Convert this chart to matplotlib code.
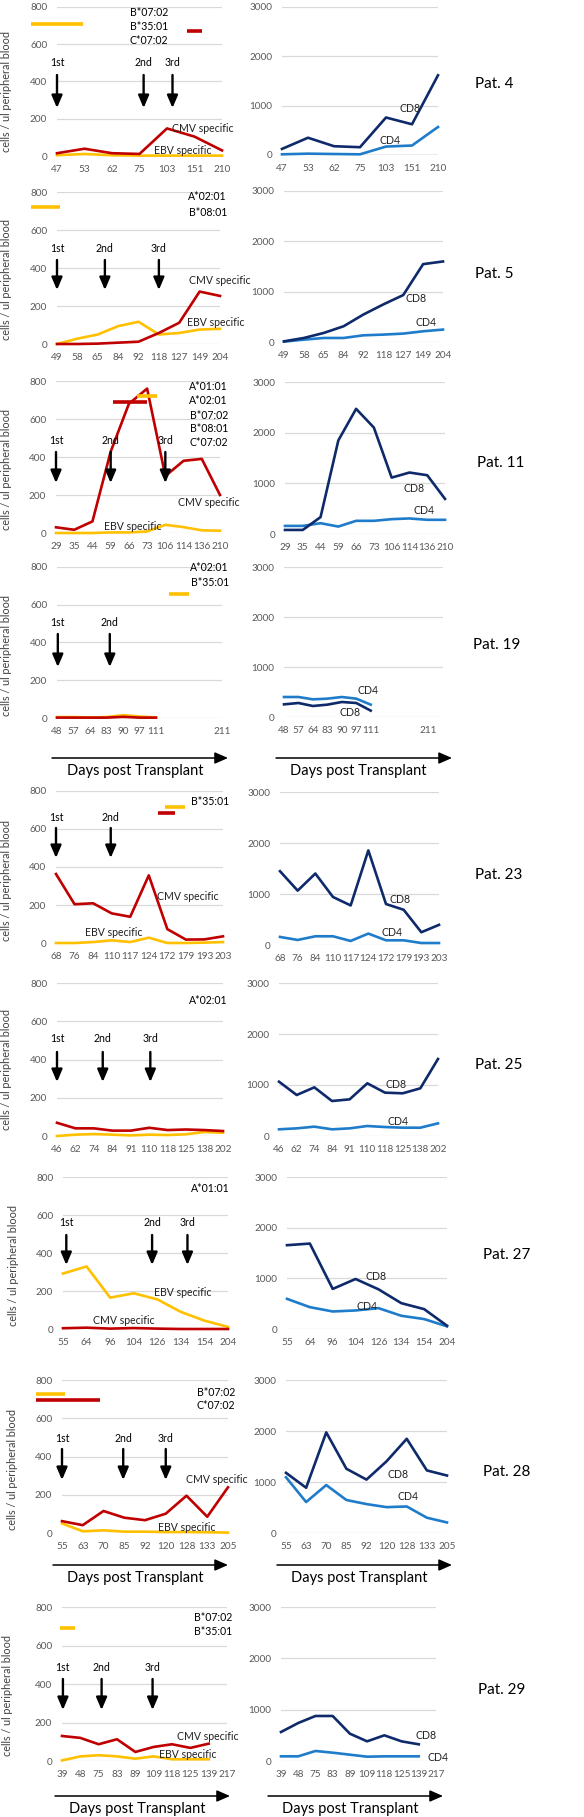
import matplotlib
matplotlib.use('Agg')
import matplotlib.pyplot as plt
import matplotlib.transforms as mtrans
import numpy as np

W, H = 584, 1817
plt.rcParams['font.family'] = ['Lato', 'DejaVu Sans']
TICKFONT = ['Lato', 'DejaVu Sans']

RED = '#C00000'
YEL = '#FFC000'
NAVY = '#0E2A6B'
BLUE = '#1F7CCB'
TICK = '#595959'
GRID = '#D9D9D9'
NAN = np.nan

# ---------------- data ----------------
p4_days = ['47', '53', '62', '75', '103', '151', '210']
p4_cmv = [15, 39, 15, 11, 148, 104, 30]
p4_ebv = [4, 11, 4, 2, 2, 2, 2]
p4_cd8 = [123, 350, 178, 158, 760, 623, 1616]
p4_cd4 = [14, 27, 20, 14, 171, 192, 568]
p4_hla = ['B*07:02', 'B*35:01', 'C*07:02']

p5_days = ['49', '58', '65', '84', '92', '118', '127', '149', '204']
p5_cmv = [0, 0, 2, 7, 12, 58, 112, 276, 253]
p5_ebv = [0, 28, 50, 94, 117, 50, 58, 76, 80]
p5_cd8 = [13, 80, 180, 313, 547, 747, 933, 1547, 1600]
p5_cd4 = [7, 47, 80, 80, 133, 147, 167, 213, 247]
p5_hla = ['A*02:01', 'B*08:01']

p11_days = ['29', '35', '44', '59', '66', '73', '106', '114', '136', '210']
p11_cmv = [30, 17, 61, 428, 680, 760, 300, 380, 390, 200]
p11_ebv = [0, 0, 0, 3, 3, 8, 43, 31, 14, 12]
p11_cd8 = [80, 80, 333, 1847, 2470, 2100, 1113, 1213, 1160, 693]
p11_cd4 = [160, 160, 213, 147, 260, 260, 293, 307, 280, 280]
p11_hla = ['A*01:01', 'A*02:01', 'B*07:02', 'B*08:01', 'C*07:02']

p19_days = ['48', '57', '64', '83', '90', '97', '111', '', '', '', '211']
p19_cmv = [2, 2, 2, 2, 6, 2, 2, NAN, NAN, NAN, NAN]
p19_ebv = [5, 5, 3, 5, 15, 8, 3, NAN, NAN, NAN, NAN]
p19_cd8 = [253, 280, 220, 247, 300, 280, 127, NAN, NAN, NAN, NAN]
p19_cd4 = [400, 400, 353, 367, 400, 367, 247, NAN, NAN, NAN, NAN]
p19_hla = ['A*02:01', 'B*35:01']

p23_days = ['68', '76', '84', '110', '117', '124', '172', '179', '193', '203']
p23_cmv = [363, 204, 209, 156, 138, 356, 73, 18, 19, 35]
p23_ebv = [0, 0, 5, 14, 5, 28, 0, 0, 2, 5]
p23_cd8 = [1447, 1066, 1401, 941, 776, 1855, 803, 691, 250, 395]
p23_cd4 = [158, 99, 171, 171, 79, 224, 92, 92, 39, 39]
p23_hla = ['B*35:01']

p25_days = ['46', '62', '74', '84', '91', '110', '118', '125', '138', '202']
p25_cmv = [69, 40, 40, 28, 28, 43, 31, 34, 31, 26]
p25_ebv = [0, 7, 10, 7, 3, 7, 5, 9, 21, 17]
p25_cd8 = [1065, 804, 954, 686, 719, 1033, 850, 837, 935, 1510]
p25_cd4 = [131, 150, 183, 131, 150, 196, 176, 163, 163, 248]
p25_hla = ['A*02:01']

p27_days = ['55', '64', '96', '104', '126', '134', '154', '204']
p27_cmv = [4, 7, 2, 5, 2, 0, 0, 0]
p27_ebv = [292, 329, 165, 188, 156, 90, 44, 11]
p27_cd8 = [1654, 1686, 791, 987, 784, 510, 392, 65]
p27_cd4 = [595, 431, 346, 366, 412, 261, 196, 52]
p27_hla = ['A*01:01']

p28_days = ['55', '63', '70', '85', '92', '120', '128', '133', '205']
p28_cmv = [62, 41, 115, 80, 67, 101, 195, 85, 239]
p28_ebv = [50, 9, 14, 7, 7, 5, 5, 4, 2]
p28_cd8 = [1180, 887, 1973, 1260, 1047, 1407, 1847, 1227, 1127]
p28_cd4 = [1093, 607, 940, 647, 567, 507, 520, 300, 207]
p28_hla = ['B*07:02', 'C*07:02']

p29_days = ['39', '48', '75', '83', '89', '109', '118', '125', '139', '217']
p29_cmv = [130, 120, 87, 113, 47, 73, 87, 68, 90, NAN]
p29_ebv = [3, 24, 30, 24, 12, 24, 9, 9, 9, NAN]
p29_cd8 = [565, 740, 877, 877, 532, 383, 500, 383, 325, NAN]
p29_cd4 = [91, 91, 195, 162, 123, 84, 91, 91, 91, NAN]
p29_hla = ['B*07:02', 'B*35:01']

# ---------------- layout (pixels) ----------------
rows = [
    dict(name='Pat. 4', days=p4_days, cmv=p4_cmv, ebv=p4_ebv, cd8=p4_cd8, cd4=p4_cd4, hla=p4_hla,
         L=(57, 222, 156, 7), R=(282, 438, 155, 7), Rx=None, ylab=(7, 92),
         hla_pos=(168, 12, 14), bars=[(YEL, -0.95, 0.95, 709), (RED, 4.73, 5.27, 671)],
         arrows=[(0, '1st'), (3.15, '2nd'), (4.2, '3rd')], arr_y=(63, 75, 108),
         cmv_lab=(172, 128), ebv_lab=(154, 151), cd8_lab=(400, 108), cd4_lab=(380, 140),
         pat=(475, 84), zero_black=True, daysax=None),
    dict(name='Pat. 5', days=p5_days, cmv=p5_cmv, ebv=p5_ebv, cd8=p5_cd8, cd4=p5_cd4, hla=p5_hla,
         L=(57, 220, 344, 192), R=(284, 443, 342, 191), Rx=None, ylab=(7, 280),
         hla_pos=(227, 197, 15), bars=[(YEL, -1.27, 0.15, 721)],
         arrows=[(0, '1st'), (2.35, '2nd'), (5.0, '3rd')], arr_y=(248, 260, 290),
         cmv_lab=(189, 281), ebv_lab=(187, 322), cd8_lab=(405, 299), cd4_lab=(415, 322),
         pat=(475, 274), zero_black=False, daysax=None),
    dict(name='Pat. 11', days=p11_days, cmv=p11_cmv, ebv=p11_ebv, cd8=p11_cd8, cd4=p11_cd4, hla=p11_hla,
         L=(56, 220, 533, 381), R=(285, 445, 534, 382), Rx=None, ylab=(7, 470),
         hla_pos=(228, 387, 14), bars=[(RED, 3.11, 4.97, 689), (YEL, 4.43, 5.52, 721)],
         arrows=[(0, '1st'), (3, '2nd'), (6, '3rd')], arr_y=(441, 452, 483),
         cmv_lab=(178, 502), ebv_lab=(104, 526), cd8_lab=(403, 488), cd4_lab=(413, 510),
         pat=(477, 463), zero_black=False, daysax=None),
    dict(name='Pat. 19', days=p19_days, cmv=p19_cmv, ebv=p19_ebv, cd8=p19_cd8, cd4=p19_cd4, hla=p19_hla,
         L=(57, 222, 718, 567), R=(284, 443, 717, 567), Rx=11, ylab=(7, 655),
         hla_pos=(229, 567, 15), bars=[(YEL, 6.8, 8.0, 656)],
         arrows=[(0.05, '1st'), (3.2, '2nd')], arr_y=(622, 634, 667),
         cmv_lab=None, ebv_lab=None, cd8_lab=(339, 712), cd4_lab=(358, 690),
         pat=(473, 645), zero_black=False, daysax=((52, 228, 758, 135, 771), (276, 452, 758, 358, 771))),
    dict(name='Pat. 23', days=p23_days, cmv=p23_cmv, ebv=p23_ebv, cd8=p23_cd8, cd4=p23_cd4, hla=p23_hla,
         L=(56, 223, 943, 791), R=(280, 439, 945, 792), Rx=None, ylab=(7, 880),
         hla_pos=(229, 801, 14), bars=[(YEL, 5.87, 6.96, 716), (RED, 5.49, 6.41, 684)],
         arrows=[(0, '1st'), (2.95, '2nd')], arr_y=(817, 828, 858),
         cmv_lab=(157, 897), ebv_lab=(85, 932), cd8_lab=(390, 899), cd4_lab=(382, 932),
         pat=(475, 875), zero_black=False, daysax=None),
    dict(name='Pat. 25', days=p25_days, cmv=p25_cmv, ebv=p25_ebv, cd8=p25_cd8, cd4=p25_cd4, hla=p25_hla,
         L=(57, 223, 1136, 983), R=(279, 438, 1136, 983), Rx=None, ylab=(7, 1070),
         hla_pos=(228, 1000, 14), bars=[],
         arrows=[(0, '1st'), (2.48, '2nd'), (5.06, '3rd')], arr_y=(1039, 1052, 1082),
         cmv_lab=None, ebv_lab=None, cd8_lab=(385, 1085), cd4_lab=(388, 1121),
         pat=(475, 1065), zero_black=False, daysax=None),
    dict(name='Pat. 27', days=p27_days, cmv=p27_cmv, ebv=p27_ebv, cd8=p27_cd8, cd4=p27_cd4, hla=p27_hla,
         L=(63, 228, 1329, 1177), R=(287, 447, 1329, 1177), Rx=None, ylab=(14, 1265),
         hla_pos=(230, 1188, 14), bars=[],
         arrows=[(0.14, '1st'), (3.78, '2nd'), (5.28, '3rd')], arr_y=(1223, 1235, 1265),
         cmv_lab=(93, 1320), ebv_lab=(154, 1293), cd8_lab=(365, 1277), cd4_lab=(357, 1306),
         pat=(483, 1255), zero_black=False, daysax=None),
    dict(name='Pat. 28', days=p28_days, cmv=p28_cmv, ebv=p28_ebv, cd8=p28_cd8, cd4=p28_cd4, hla=p28_hla,
         L=(62, 228, 1533, 1380), R=(286, 447, 1533, 1380), Rx=None, ylab=(13, 1470),
         hla_pos=(235, 1392, 13), bars=[(YEL, -1.26, 0.14, 727), (RED, -1.26, 1.84, 695)],
         arrows=[(0, '1st'), (2.95, '2nd'), (5, '3rd')], arr_y=(1438, 1449, 1480),
         cmv_lab=(186, 1479), ebv_lab=(158, 1527), cd8_lab=(387, 1474), cd4_lab=(397, 1497),
         pat=(483, 1472), zero_black=False, daysax=((53, 228, 1565, 135, 1578), (277, 452, 1565, 359, 1578))),
    dict(name='Pat. 29', days=p29_days, cmv=p29_cmv, ebv=p29_ebv, cd8=p29_cd8, cd4=p29_cd4, hla=p29_hla,
         L=(62, 227, 1761, 1607), R=(281, 436, 1761, 1607), Rx=None, ylab=(8, 1695),
         hla_pos=(232, 1617, 14), bars=[(YEL, -0.11, 0.71, 691)],
         arrows=[(0.05, '1st'), (2.16, '2nd'), (4.94, '3rd')], arr_y=(1667, 1679, 1710),
         cmv_lab=(177, 1736), ebv_lab=(159, 1754), cd8_lab=(415, 1735), cd4_lab=(427, 1757),
         pat=(478, 1690), zero_black=False, daysax=((55, 230, 1796, 137, 1809), (268, 443, 1796, 350, 1809))),
]


def fx(x):
    return x / W


def fy(y):
    return 1 - y / H


fig = plt.figure(figsize=(W / 100, H / 100), dpi=100)

FS = 7.6
TFS = 7.2


def make_axes(ext, ymax, yticks, n, xmax=None):
    x0, x1, y0, yt = ext
    ax = fig.add_axes([fx(x0), fy(y0), (x1 - x0) / W, (y0 - yt) / H])
    ax.set_xlim(0, xmax if xmax is not None else n - 1)
    ax.set_ylim(0, ymax)
    ax.set_yticks(yticks)
    ax.set_yticklabels([str(t) for t in yticks], family=TICKFONT)
    ax.set_xticks(range(n))
    for s in ax.spines.values():
        s.set_visible(False)
    ax.yaxis.grid(True, color=GRID, lw=0.9)
    ax.set_axisbelow(True)
    ax.tick_params(axis='both', length=0, labelsize=TFS, colors=TICK)
    ax.tick_params(axis='x', pad=6.5)
    ax.tick_params(axis='y', pad=7)
    ax.patch.set_alpha(0)
    return ax


for r in rows:
    n = len(r['days'])
    idx = np.arange(n)
    # left panel
    axL = make_axes(r['L'], 800, [0, 200, 400, 600, 800], n)
    axL.set_xticklabels(r['days'], family=TICKFONT)
    axL.plot(idx, np.array(r['ebv'], float), color=YEL, lw=1.9, clip_on=False)
    axL.plot(idx, np.array(r['cmv'], float), color=RED, lw=1.9, clip_on=False)
    for col, a, b, v in r['bars']:
        axL.plot([a, b], [v, v], color=col, lw=2.6, clip_on=False, solid_capstyle='butt')
    tr = mtrans.blended_transform_factory(axL.transData, fig.transFigure)
    ly, ay0, ay1 = r['arr_y']
    for xi, lab in r['arrows']:
        axL.annotate('', xy=(xi, fy(ay1)), xytext=(xi, fy(ay0)), xycoords=tr, textcoords=tr,
                     arrowprops=dict(arrowstyle='-|>,head_length=0.75,head_width=0.32',
                                     lw=1.7, color='black', shrinkA=0, shrinkB=0))
        axL.text(xi, fy(ly), lab, transform=tr, ha='center', va='center', fontsize=FS, color='black')
    # right panel
    axR = make_axes(r['R'], 3000, [0, 1000, 2000, 3000], n, xmax=r['Rx'])
    axR.set_xticklabels(r['days'], family=TICKFONT)
    if r['zero_black']:
        axR.axhline(0, color='black', lw=0.8, zorder=1)
    axR.plot(idx, np.array(r['cd4'], float), color=BLUE, lw=1.9, clip_on=False)
    axR.plot(idx, np.array(r['cd8'], float), color=NAVY, lw=1.9, clip_on=False)

    # texts
    fig.text(fx(r['ylab'][0]), fy(r['ylab'][1]), 'cells / ul peripheral blood', rotation=90,
             ha='center', va='center', fontsize=7.8, color='#404040')
    hx, hy, hs = r['hla_pos']
    for k, t in enumerate(r['hla']):
        fig.text(fx(hx), fy(hy + k * hs), t, ha='right', va='center', fontsize=FS, color='black')
    if r['cmv_lab']:
        fig.text(fx(r['cmv_lab'][0]), fy(r['cmv_lab'][1]), 'CMV specific', ha='left', va='center',
                 fontsize=FS, color='#222222')
    if r['ebv_lab']:
        fig.text(fx(r['ebv_lab'][0]), fy(r['ebv_lab'][1]), 'EBV specific', ha='left', va='center',
                 fontsize=FS, color='#222222')
    fig.text(fx(r['cd8_lab'][0]), fy(r['cd8_lab'][1]), 'CD8', ha='left', va='center', fontsize=FS, color='#222222')
    fig.text(fx(r['cd4_lab'][0]), fy(r['cd4_lab'][1]), 'CD4', ha='left', va='center', fontsize=FS, color='#222222')
    fig.text(fx(r['pat'][0]), fy(r['pat'][1]), r['name'], ha='left', va='center', fontsize=11, color='black')
    if r['daysax']:
        for (ax0, ax1, ay, tx, ty) in r['daysax']:
            fig.add_artist(matplotlib.patches.FancyArrowPatch(
                (fx(ax0), fy(ay)), (fx(ax1), fy(ay)), transform=fig.transFigure,
                arrowstyle='-|>,head_length=0.8,head_width=0.35', mutation_scale=10,
                lw=1.1, color='black', shrinkA=0, shrinkB=0))
            fig.text(fx(tx), fy(ty), 'Days post Transplant', ha='center', va='center',
                     fontsize=10.5, color='black')

fig.savefig('out.png', dpi=100)
